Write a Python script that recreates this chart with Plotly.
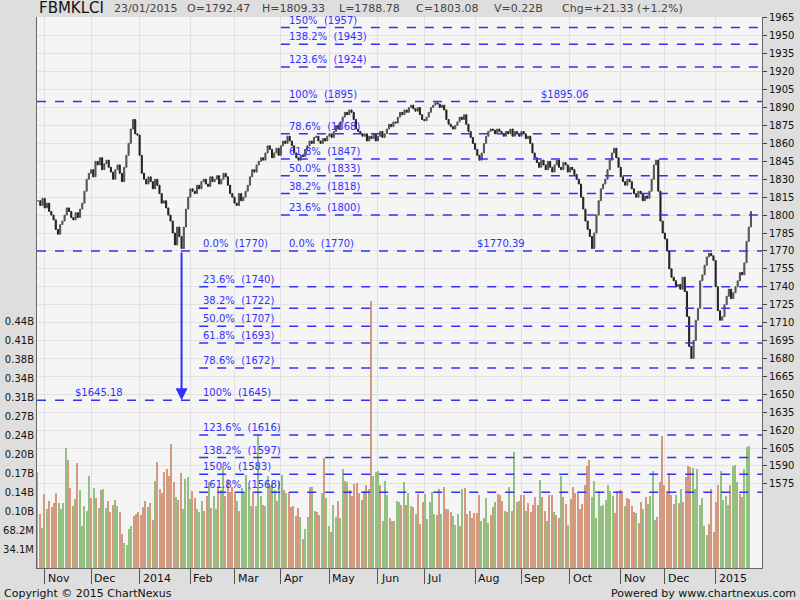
import pandas as pd
import plotly.graph_objects as go

# daily closes, 30 Oct 2013 .. 23 Jan 2015 (weekday grid)
closes = [
    1812, 1808, 1814, 1806, 1810, 1803, 1800, 1796, 1788, 1784,
    1792, 1795, 1800, 1806, 1803, 1798, 1796, 1802, 1798, 1805,
    1810, 1820, 1830, 1835, 1838, 1832, 1845, 1842, 1848, 1838,
    1843, 1846, 1840, 1836, 1830, 1838, 1842, 1835, 1828, 1840,
    1850, 1860, 1872, 1880, 1868, 1867, 1850, 1835, 1830, 1826,
    1832, 1828, 1822, 1830, 1825, 1818, 1810, 1812, 1806, 1800,
    1795, 1785, 1775, 1790, 1782, 1772, 1790, 1805, 1815, 1822,
    1820, 1818, 1825, 1822, 1828, 1830, 1826, 1824, 1832, 1828,
    1830, 1833, 1826, 1830, 1835, 1832, 1825, 1818, 1815, 1810,
    1808, 1818, 1812, 1815, 1820, 1825, 1832, 1838, 1836, 1842,
    1845, 1848, 1846, 1852, 1858, 1855, 1848, 1852, 1856, 1850,
    1858, 1862, 1860, 1866, 1862, 1858, 1852, 1848, 1846, 1850,
    1849, 1855, 1858, 1862, 1860, 1865, 1866, 1862, 1860, 1864,
    1862, 1866, 1868, 1865, 1870, 1875, 1872, 1878, 1882, 1886,
    1884, 1888, 1886, 1880, 1872, 1870, 1868, 1866, 1868, 1862,
    1866, 1864, 1868, 1862, 1866, 1870, 1865, 1868, 1872, 1876,
    1874, 1878, 1877, 1882, 1886, 1884, 1888, 1886, 1890, 1892,
    1889, 1887, 1890, 1884, 1880, 1879, 1882, 1886, 1890, 1892,
    1894, 1893, 1890, 1892, 1888, 1880, 1876, 1874, 1872, 1875,
    1878, 1882, 1880, 1884, 1876, 1870, 1865, 1860, 1855, 1850,
    1846, 1852, 1860, 1866, 1870, 1872, 1871, 1868, 1872, 1870,
    1868, 1866, 1870, 1868, 1872, 1866, 1870, 1868, 1866, 1870,
    1868, 1864, 1866, 1860, 1852, 1848, 1844, 1840, 1846, 1842,
    1838, 1845, 1840, 1836, 1842, 1846, 1840, 1838, 1844, 1842,
    1836, 1840, 1838, 1834, 1830, 1826, 1815, 1805, 1795, 1788,
    1782, 1772, 1785, 1800, 1812, 1822, 1826, 1830, 1838, 1846,
    1852, 1856, 1848, 1840, 1832, 1828, 1825, 1830, 1828, 1822,
    1818, 1815, 1820, 1818, 1812, 1816, 1814, 1820, 1830, 1842,
    1846, 1820, 1795, 1785, 1780, 1770, 1755, 1748, 1745, 1740,
    1742, 1738, 1748, 1736, 1715, 1690, 1680, 1695, 1712, 1722,
    1745, 1750, 1758, 1765, 1768, 1766, 1762, 1740, 1720, 1712,
    1715, 1725, 1732, 1738, 1730, 1735, 1740, 1745, 1752, 1750,
    1760, 1778, 1790, 1803,
]

# volume per trading session in millions (exchange sessions, holidays excluded)
volumes = [
    172, 97, 72, 133, 106, 121, 109, 117, 134, 117, 106, 117, 215, 194, 143, 111,
    124, 188, 140, 75, 111, 103, 166, 125, 143, 126, 107, 140, 142, 107, 121, 101,
    113, 123, 111, 101, 61, 45, 41, 70, 75, 93, 97, 100, 95, 109, 121, 109, 116, 87,
    157, 190, 142, 134, 172, 178, 166, 222, 155, 127, 122, 170, 106, 160, 163, 124,
    139, 125, 106, 100, 120, 103, 130, 154, 107, 130, 106, 147, 140, 183, 130, 160,
    137, 145, 137, 121, 103, 143, 137, 167, 145, 111, 137, 111, 239, 130, 113, 111,
    166, 147, 153, 140, 120, 157, 167, 140, 134, 137, 109, 111, 94, 107, 92, 53, 70,
    92, 146, 145, 103, 100, 95, 134, 197, 125, 75, 64, 113, 91, 121, 90, 178, 157,
    155, 140, 129, 151, 153, 135, 123, 139, 150, 142, 480, 165, 173, 175, 150, 85,
    157, 131, 90, 85, 84, 121,
    119, 113, 155, 113, 134, 111, 109, 97, 133, 79, 119, 133, 88, 119, 136, 97, 95,
    142, 97, 145, 106, 106, 100, 94, 77, 97, 75, 142, 143, 97, 103, 90, 99, 99, 131,
    85, 90, 125, 81, 95, 109, 119, 133, 131, 121, 103, 101, 146, 103, 208, 119, 121,
    131, 131, 103, 116, 101, 113, 128, 113, 159, 127, 103, 85, 131, 131, 101, 95, 89,
    166, 127, 115, 77, 124, 145, 134, 134, 106, 115, 149, 183, 194, 127, 157, 89, 139,
    111, 113, 122, 150, 139, 130, 99, 139, 140, 139, 111, 125, 124, 112, 101, 99, 81,
    118, 106, 127, 115, 129, 174, 87, 92, 155, 237, 150, 139, 170, 131, 115, 131, 116,
    142, 119, 163, 183, 181, 179, 142, 178, 113, 125, 76, 59, 79, 142, 64, 119, 149,
    174, 123, 130, 113, 150, 184, 185, 155, 133, 127, 178, 218, 220,
]

upper_levels = [1957, 1943, 1924, 1868, 1847, 1833, 1818, 1800]
upper_labels = ["150%  (1957)", "138.2%  (1943)", "123.6%  (1924)", "78.6%  (1868)",
                "61.8%  (1847)", "50.0%  (1833)", "38.2%  (1818)", "23.6%  (1800)"]
lower_levels = [1740, 1722, 1707, 1693, 1672, 1616, 1597, 1583, 1568]
lower_labels = ["23.6%  (1740)", "38.2%  (1722)", "50.0%  (1707)", "61.8%  (1693)",
                "78.6%  (1672)", "123.6%  (1616)", "138.2%  (1597)", "150%  (1583)",
                "161.8%  (1568)"]
full_levels = [1895, 1770, 1645]

vol_ticks = [34.1, 68.2, 102.3, 136.4, 170.5, 204.6, 238.7, 272.8, 306.9, 341, 375.1, 409.2, 443.3]
vol_labels = ["34.1M", "68.2M", "0.10B", "0.14B", "0.17B", "0.20B", "0.24B",
              "0.27B", "0.31B", "0.34B", "0.38B", "0.41B", "0.44B"]
price_ticks = list(range(1575, 1966, 15))

n = len(closes)
nv = len(volumes)
dates = pd.bdate_range(end="2015-01-23", periods=n)
idx = list(range(n))
opens = [closes[0]] + closes[:-1]
highs = [max(o, c) for o, c in zip(opens, closes)]
lows = [min(o, c) for o, c in zip(opens, closes)]
vol_colors = []
for i in range(nv):
    j = round(i * (n - 1) / (nv - 1))
    vol_colors.append("#93bf80" if closes[j] >= opens[j] else "#d49a80")

# month ticks
tickvals, ticktext = [], []
for i in range(1, n):
    if dates[i].month != dates[i - 1].month:
        tickvals.append(i)
        ticktext.append(str(dates[i].year) if dates[i].month == 1 else dates[i].strftime("%b"))

L, R, T, B = 37, 38, 17, 32
PW, PH = 800 - L - R, 600 - T - B


def px(x):
    return (x - L) / PW


def py(y):
    return (600 - B - y) / PH


xmax = n + 4
# volume bars span pixel 37..749 of the 37..762 plot width
vstep = (749 - 37) / (nv - 1)
vrange = [-0.2, nv - 1 + (762 - 749) / vstep]

BLUE = "#3030ff"
fig = go.Figure()
fig.add_trace(go.Bar(x=list(range(nv)), y=volumes, marker_color=vol_colors, width=0.45,
                     marker_line_width=0, xaxis="x", yaxis="y", showlegend=False))
fig.add_trace(go.Candlestick(
    x=idx, open=opens, high=highs, low=lows, close=closes, xaxis="x2", yaxis="y2",
    increasing=dict(line=dict(color="#555555", width=1), fillcolor="#555555"),
    decreasing=dict(line=dict(color="#222222", width=1), fillcolor="#222222"),
    whiskerwidth=0, showlegend=False))

shapes, annots = [], []
for lv in full_levels:
    shapes.append(dict(type="line", xref="x2", yref="y2", x0=-0.5, x1=xmax, y0=lv, y1=lv,
                       line=dict(color=BLUE, width=1.5, dash="dash")))
for lv, lb in zip(upper_levels, upper_labels):
    shapes.append(dict(type="line", xref="x2", yref="y2", x0=110, x1=xmax, y0=lv, y1=lv,
                       line=dict(color=BLUE, width=1.5, dash="dash")))
    annots.append(dict(x=113, y=lv, xref="x2", yref="y2", text=lb, showarrow=False,
                       xanchor="left", yanchor="bottom", font=dict(color=BLUE, size=10)))
for lv, lb in zip(lower_levels, lower_labels):
    shapes.append(dict(type="line", xref="x2", yref="y2", x0=73, x1=xmax, y0=lv, y1=lv,
                       line=dict(color=BLUE, width=1.5, dash="dash")))
    annots.append(dict(x=74, y=lv, xref="x2", yref="y2", text=lb, showarrow=False,
                       xanchor="left", yanchor="bottom", font=dict(color=BLUE, size=10)))
extra = [(113, 1895, "100%  (1895)"), (113, 1770, "0.0%  (1770)"), (74, 1770, "0.0%  (1770)"),
         (74, 1645, "100%  (1645)"), (227, 1895, "$1895.06"), (198, 1770, "$1770.39"),
         (16, 1645, "$1645.18")]
for x, y, t in extra:
    annots.append(dict(x=x, y=y, xref="x2", yref="y2", text=t, showarrow=False,
                       xanchor="left", yanchor="bottom", font=dict(color=BLUE, size=10)))
annots.append(dict(x=65, y=1645, ax=65, ay=1770, xref="x2", yref="y2", axref="x2", ayref="y2",
                   text="", showarrow=True, arrowhead=2, arrowsize=1.2, arrowwidth=2,
                   arrowcolor=BLUE))
# month labels sit just right of their tick marks
for tv, tt in zip(tickvals, ticktext):
    annots.append(dict(x=tv, y=py(578), xref="x2", yref="paper", text=tt, showarrow=False,
                       xanchor="left", yanchor="middle", xshift=1, font=dict(size=11, color="#111")))

header = [(37, "FBMKLCI", 15, "#111"), (112, "23/01/2015", 11, "#444"), (185, "O=1792.47", 11, "#444"),
          (260, "H=1809.33", 11, "#444"), (337, "L=1788.78", 11, "#444"), (414, "C=1803.08", 11, "#444"),
          (492, "V=0.22B", 11, "#444"), (560, "Chg=+21.33 (+1.2%)", 11, "#444")]
for x, t, s, c in header:
    annots.append(dict(x=px(x), y=py(8), xref="paper", yref="paper", xanchor="left",
                       yanchor="middle", text=t, showarrow=False, font=dict(size=s, color=c)))
annots.append(dict(x=px(2), y=py(593), xref="paper", yref="paper", xanchor="left", yanchor="middle",
                   text="Copyright © 2015 ChartNexus", showarrow=False, font=dict(size=11, color="#111")))
annots.append(dict(x=px(798), y=py(593), xref="paper", yref="paper", xanchor="right", yanchor="middle",
                   text="Powered by www.chartnexus.com", showarrow=False, font=dict(size=11, color="#111")))

fig.update_layout(
    width=800, height=600, margin=dict(l=L, r=R, t=T, b=B),
    paper_bgcolor="#dedede", plot_bgcolor="#f5f5f5",
    font=dict(family="DejaVu Sans", size=11, color="#111"),
    shapes=shapes, annotations=annots, bargap=0,
    xaxis=dict(range=vrange, showticklabels=False, showgrid=False, zeroline=False,
               showline=True, linecolor="#666", automargin=False),
    xaxis2=dict(range=[-0.5, xmax], overlaying="x", side="bottom", anchor="y2",
                tickvals=tickvals, showticklabels=False, ticks="outside",
                ticklen=15, tickcolor="#555", showgrid=True, gridcolor="#e2e2e2",
                rangeslider=dict(visible=False), zeroline=False, automargin=False),
    yaxis=dict(range=[0, 990], tickvals=vol_ticks, ticktext=vol_labels, showgrid=False,
               zeroline=False, showline=True, linecolor="#666", side="left",
               automargin=False, tickfont=dict(size=10)),
    yaxis2=dict(range=[1504.6, 1965.8], tickvals=price_ticks, overlaying="y", side="right",
                anchor="x2", showgrid=True, gridcolor="#e2e2e2", zeroline=False, showline=True,
                linecolor="#666", ticks="outside", ticklen=4, automargin=False,
                tickfont=dict(size=10)),
)
fig.write_html("out.html", config={"displayModeBar": False},
               post_script="document.body.style.margin='0';document.body.style.overflow='hidden';")
